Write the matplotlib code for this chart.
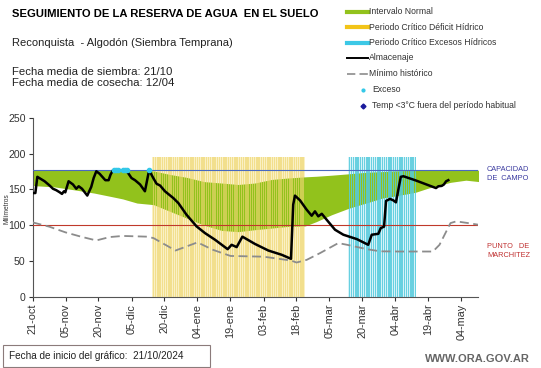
import matplotlib
matplotlib.use("Agg")
import matplotlib.pyplot as plt
from matplotlib.lines import Line2D
from matplotlib.patches import Rectangle

plt.rcParams['font.family'] = ['Liberation Sans', 'DejaVu Sans']

W, H = 541, 368

# días desde el 21/10/2024
tick_days = [0, 15, 30, 45, 60, 75, 90, 105, 120, 135, 150, 165, 180, 195]
tick_labels = ["21-oct", "05-nov", "20-nov", "05-dic", "20-dic", "04-ene", "19-ene",
               "03-feb", "18-feb", "05-mar", "20-mar", "04-abr", "19-abr", "04-may"]

# almacenaje (mm)
alm_days = [0.2, 1.3, 2.2, 5.5, 7.8, 9.3, 10.8, 12.4, 13.4, 14.3, 14.9, 16.4, 18.4, 19.9,
            21, 22.5, 24.9, 26.7, 27.8, 29, 30.5, 33.1, 34.6, 35.5, 36.6, 40, 42.8, 45,
            46.6, 48.9, 51.1, 53, 54.9, 56.4, 58, 60.2, 64, 66.3, 70, 74.6, 78.4, 83,
            88.7, 90.5, 92.8, 95.4, 101, 107.2, 113.3, 117.5, 118.5, 119.3, 121.6, 124.6,
            126.9, 128.4, 129.9, 131.5, 133.7, 137.5, 141.3, 147.4, 152.6, 154.2, 157.2,
            158.3, 159.8, 160.7, 162.5, 164, 165.2, 167.4, 168.6, 173.9, 183.4, 184.5,
            186, 187, 188, 189]
alm_vals = [145, 145, 167.7, 161.5, 155.5, 151, 149, 146, 143.8, 147.5, 146, 161.5, 157, 151,
            154.5, 151, 141.5, 153.6, 166, 175.5, 172, 163, 163, 171, 177, 177, 176, 166,
            163, 157, 147.5, 177, 166, 158, 155.5, 147.5, 138, 131, 114.7, 98.3, 89, 79.6,
            66.5, 72.6, 69.4, 84, 74, 64.6, 58.6, 53, 128.8, 141.4, 134.8, 121.8,
            113.3, 119.4, 112.4, 116, 107.7, 93.7, 86.7, 80.6, 72.6, 86.7, 88,
            96, 98, 134, 136.8, 134.8, 132, 167.7, 168.5, 163, 152, 154.5,
            155, 157, 161.5, 163]

# intervalo normal
norm_days = [0, 10, 20, 28, 36, 41, 47.5, 55, 62.5, 70, 78, 86, 93.5, 101, 108.7, 116,
             124, 129, 136, 144, 151.6, 159, 165, 174, 180, 190, 197, 203]
norm_low = [155.5, 153.6, 149, 145, 140, 136.8, 131, 128.8, 119.4, 110, 100, 92.7, 91, 93.7,
            96, 98.3, 99, 105, 114.7, 124, 131, 138, 141, 146, 152, 160, 163, 161]
norm_high = [177, 177, 177, 177, 177, 177, 177, 176, 171, 167, 161, 159, 157, 159, 164, 166,
             167.7, 168.5, 170, 172, 174, 175, 176, 177, 177, 177, 177, 177]

# mínimo histórico
min_days = [0, 7.6, 15, 22, 29, 35, 41, 52, 55, 65, 75, 82, 90, 105, 117.5, 120, 124.6,
            130.7, 139, 143, 152, 158, 167, 182, 185, 190, 192.6, 198, 202.7]
min_vals = [104, 98, 90, 84, 78.7, 83.4, 85, 84, 82, 64.6, 76, 65.6, 57, 56, 50.6, 47.8, 51.5,
            61, 75, 72.6, 66.5, 63.5, 63.2, 63.2, 72.6, 103, 105.4, 103, 100.7]

exceso_days = [37, 38, 39, 41, 42, 43, 53]
exceso_vals = [177, 177, 177, 177, 177, 177, 177]

capacidad = 177
marchitez = 100
deficit_period = (54.5, 124)
excesos_period = (143.6, 174.4)
period_top = 195

fig = plt.figure(figsize=(W / 100, H / 100), dpi=100)
ax = fig.add_axes([32.5 / W, 1 - 296.7 / H, (478 - 32.5) / W, (296.7 - 118) / H])

# periodos críticos (barras rayadas)
ax.axvspan(*deficit_period, ymax=period_top / 250, color='#FAF0C4', lw=0, zorder=1)
ax.axvspan(*excesos_period, ymax=period_top / 250, color='#D6F2F8', lw=0, zorder=1)
ax.fill_between(norm_days, norm_low, norm_high, color='#92C21C', lw=0, zorder=2)
ydays = list(range(55, 124))
ax.bar(ydays, [period_top] * len(ydays), width=0.6, color='#EED770', alpha=0.65, lw=0, zorder=3)
cdays = list(range(144, 175))
ax.bar(cdays, [period_top] * len(cdays), width=0.6, color='#55CADC', alpha=0.85, lw=0, zorder=3)

ax.axhline(capacidad, color='#4A6AC0', lw=0.8, zorder=4)
ax.axhline(marchitez, color='#C0392B', lw=0.8, zorder=4)
ax.plot(min_days, min_vals, color='#8C8C8C', lw=1.3, dashes=(5, 2.5), zorder=5)
ax.plot(alm_days, alm_vals, color='black', lw=1.8, zorder=6)
ax.plot(exceso_days, exceso_vals, 'o', color='#33C8E8', ms=3, zorder=7)

ax.set_xlim(0, 202.5)
ax.set_ylim(0, 250)
ax.set_yticks([0, 50, 100, 150, 200, 250])
ax.set_xticks(tick_days)
ax.set_xticklabels(tick_labels, rotation=90)
ax.tick_params(axis='y', labelsize=7.6, length=3, width=0.8, colors='#333333', pad=2)
ax.tick_params(axis='x', labelsize=7.8, length=3, width=0.8, colors='#333333', pad=2)
for s in ['top', 'right']:
    ax.spines[s].set_visible(False)
for s in ['left', 'bottom']:
    ax.spines[s].set_color('#555555')
    ax.spines[s].set_linewidth(0.8)


def fx(x):
    return x / W


def fy(y):
    return 1 - y / H


fig.text(fx(7), fy(209), "Milímetros", rotation=90, fontsize=4.8, ha='center', va='center',
         color='#333333')
fig.text(fx(487), fy(170), "CAPACIDAD", fontsize=5.3, color='#3B3BA0', va='center')
fig.text(fx(487), fy(179), "DE  CAMPO", fontsize=5.3, color='#3B3BA0', va='center')
fig.text(fx(487), fy(246.5), "PUNTO   DE", fontsize=5.3, color='#C03030', va='center')
fig.text(fx(487), fy(255.5), "MARCHITEZ", fontsize=5.3, color='#C03030', va='center')

# encabezado
fig.text(fx(12), fy(14), "SEGUIMIENTO DE LA RESERVA DE AGUA  EN EL SUELO", fontsize=8.1,
         fontweight='bold', va='center')
fig.text(fx(12), fy(43), "Reconquista  - Algodón (Siembra Temprana)", fontsize=8.0,
         va='center', color='#222222')
fig.text(fx(12), fy(72), "Fecha media de siembra: 21/10", fontsize=8.2, va='center',
         color='#222222')
fig.text(fx(12), fy(83.5), "Fecha media de cosecha: 12/04", fontsize=8.2, va='center',
         color='#222222')

# leyenda manual
leg_y = [11.5, 27, 42.5, 58, 73.5, 90, 106]
leg_txt = ["Intervalo Normal", "Periodo Crítico Déficit Hídrico",
           "Periodo Crítico Excesos Hídricos", "Almacenaje", "Mínimo histórico",
           "Exceso", "Temp <3°C fuera del período habitual"]
for y, c in zip(leg_y[:3], ['#92C21C', '#F2C418', '#3CC8E6']):
    fig.add_artist(Line2D([fx(347), fx(368)], [fy(y), fy(y)], color=c, lw=3))
fig.add_artist(Line2D([fx(347), fx(368)], [fy(leg_y[3]), fy(leg_y[3])], color='black', lw=1.4))
fig.add_artist(Line2D([fx(347), fx(368)], [fy(leg_y[4]), fy(leg_y[4])], color='#8C8C8C',
                      lw=1.2, dashes=(5, 2.5)))
fig.add_artist(Line2D([fx(363)], [fy(leg_y[5])], marker='o', color='#33C8E8', ms=2, lw=0))
fig.add_artist(Line2D([fx(363)], [fy(leg_y[6])], marker='D', color='#1A1A9C', ms=2.5, lw=0))
for i, (y, t) in enumerate(zip(leg_y, leg_txt)):
    x = 372 if i >= 5 else 369
    fig.text(fx(x), fy(y), t, fontsize=6.2, va='center', color='#333333')

# pie
fig.add_artist(Rectangle((fx(3), fy(367)), fx(207), (367 - 345) / H, fill=False,
                         edgecolor='#8B7B7B', lw=0.8))
fig.text(fx(9), fy(356), "Fecha de inicio del gráfico:  21/10/2024", fontsize=7.2,
         va='center', color='#222222')
fig.text(fx(425), fy(359), "WWW.ORA.GOV.AR", fontsize=8.0, va='center', color='#666666',
         fontweight='bold')

fig.savefig("out.png", dpi=100)
